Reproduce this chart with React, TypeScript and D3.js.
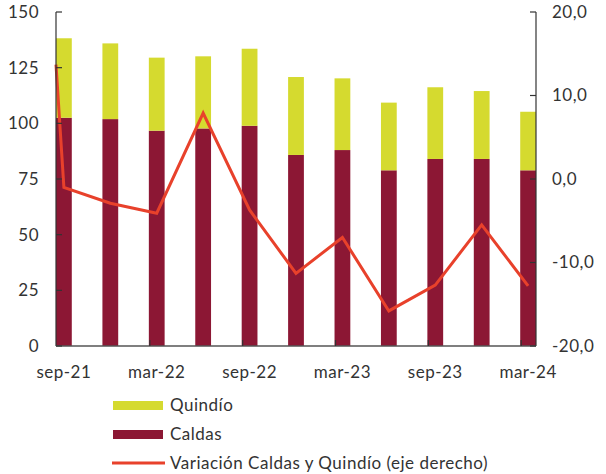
import React from "react";
import * as d3 from "d3";

const categories = ["sep-21","dec-21","mar-22","jun-22","sep-22","dec-22","mar-23","jun-23","sep-23","dec-23","mar-24"];
const caldas = [102.5, 101.9, 96.7, 97.7, 98.9, 85.8, 88.0, 78.9, 84.0, 84.0, 78.9];
const totals = [138.2, 135.9, 129.5, 130.1, 133.5, 120.8, 120.2, 109.3, 116.2, 114.5, 105.2];
const quindio = totals.map((t, i) => +(t - caldas[i]).toFixed(1));
const variacionStart = 13.7;
const variacion = [-1.0, -2.9, -4.1, 7.9, -3.7, -11.3, -7.0, -15.8, -12.7, -5.5, -12.8];
const xLabels = ["sep-21","mar-22","sep-22","mar-23","sep-23","mar-24"];
const leftTicks = [0, 25, 50, 75, 100, 125, 150];
const rightTicks = [-20, -10, 0, 10, 20];

const C_QUINDIO = "#d5da2f";
const C_CALDAS = "#8c1734";
const C_LINE = "#e8412b";
const FONT = "Lato, 'Open Sans', sans-serif";
const FS = 17;
const LS = 0.5;

export default function App() {
  const W = 606, H = 474;
  const left = 56, right = 536, top = 12, bottom = 346;
  const x = d3.scaleBand<string>().domain(categories).range([left, right]).paddingInner(0.66).paddingOuter(0);
  const yL = d3.scaleLinear().domain([0, 150]).range([bottom, top]);
  const yR = d3.scaleLinear().domain([-20, 20]).range([bottom, top]);
  const bw = x.bandwidth();
  const pts: [number, number][] = [[left, yR(variacionStart)], ...categories.map((c, i) => [x(c)! + bw / 2, yR(variacion[i])] as [number, number])];
  const line = d3.line()(pts) || "";
  const fmt = (v: number) => v.toFixed(1).replace(".", ",");
  const textProps = { fontSize: FS, fill: "#333", letterSpacing: LS } as any;
  return (
    <svg width={W} height={H} style={{ position: "absolute", left: 0, top: 0, fontFamily: FONT }}>
      <rect width={W} height={H} fill="#fff" />
      {categories.map((c, i) => (
        <g key={c}>
          <rect x={x(c)} y={yL(caldas[i])} width={bw} height={yL(0) - yL(caldas[i])} fill={C_CALDAS} />
          <rect x={x(c)} y={yL(caldas[i] + quindio[i])} width={bw} height={yL(caldas[i]) - yL(caldas[i] + quindio[i])} fill={C_QUINDIO} />
        </g>
      ))}
      <path d={line} fill="none" stroke={C_LINE} strokeWidth={3} strokeLinejoin="miter" />
      <line x1={left} x2={left} y1={top} y2={bottom} stroke="#333" strokeWidth={1.2} />
      <line x1={right} x2={right} y1={top} y2={bottom} stroke="#333" strokeWidth={1.2} />
      <line x1={left} x2={right} y1={bottom} y2={bottom} stroke="#555" strokeWidth={1.5} />
      {leftTicks.map(t => (
        <g key={"l" + t}>
          <line x1={left} x2={left + 6} y1={yL(t)} y2={yL(t)} stroke="#333" strokeWidth={1.2} />
          <text x={39} y={yL(t)} dy="0.35em" textAnchor="end" {...textProps}>{t}</text>
        </g>
      ))}
      {rightTicks.map(t => (
        <g key={"r" + t}>
          <line x1={right - 6} x2={right} y1={yR(t)} y2={yR(t)} stroke="#333" strokeWidth={1.2} />
          <text x={552} y={yR(t)} dy="0.35em" textAnchor="start" {...textProps}>{fmt(t)}</text>
        </g>
      ))}
      {xLabels.map((c, i) => (
        <g key={"x" + c}>
          {i > 0 && <line x1={x(c)! + 1} x2={x(c)! + 1} y1={bottom} y2={bottom - 6} stroke="#333" strokeWidth={1.2} />}
          <text x={x(c)! + bw / 2} y={372} dy="0.35em" textAnchor="middle" {...textProps}>{c}</text>
        </g>
      ))}
      <rect x={113} y={401} width={50} height={9} fill={C_QUINDIO} />
      <text x={170} y={405.5} dy="0.35em" {...textProps}>Quindío</text>
      <rect x={113} y={430} width={50} height={9} fill={C_CALDAS} />
      <text x={170} y={434.5} dy="0.35em" {...textProps}>Caldas</text>
      <line x1={112} x2={165} y1={463} y2={463} stroke={C_LINE} strokeWidth={3} />
      <text x={170} y={463} dy="0.35em" {...textProps}>Variación Caldas y Quindío (eje derecho)</text>
    </svg>
  );
}
